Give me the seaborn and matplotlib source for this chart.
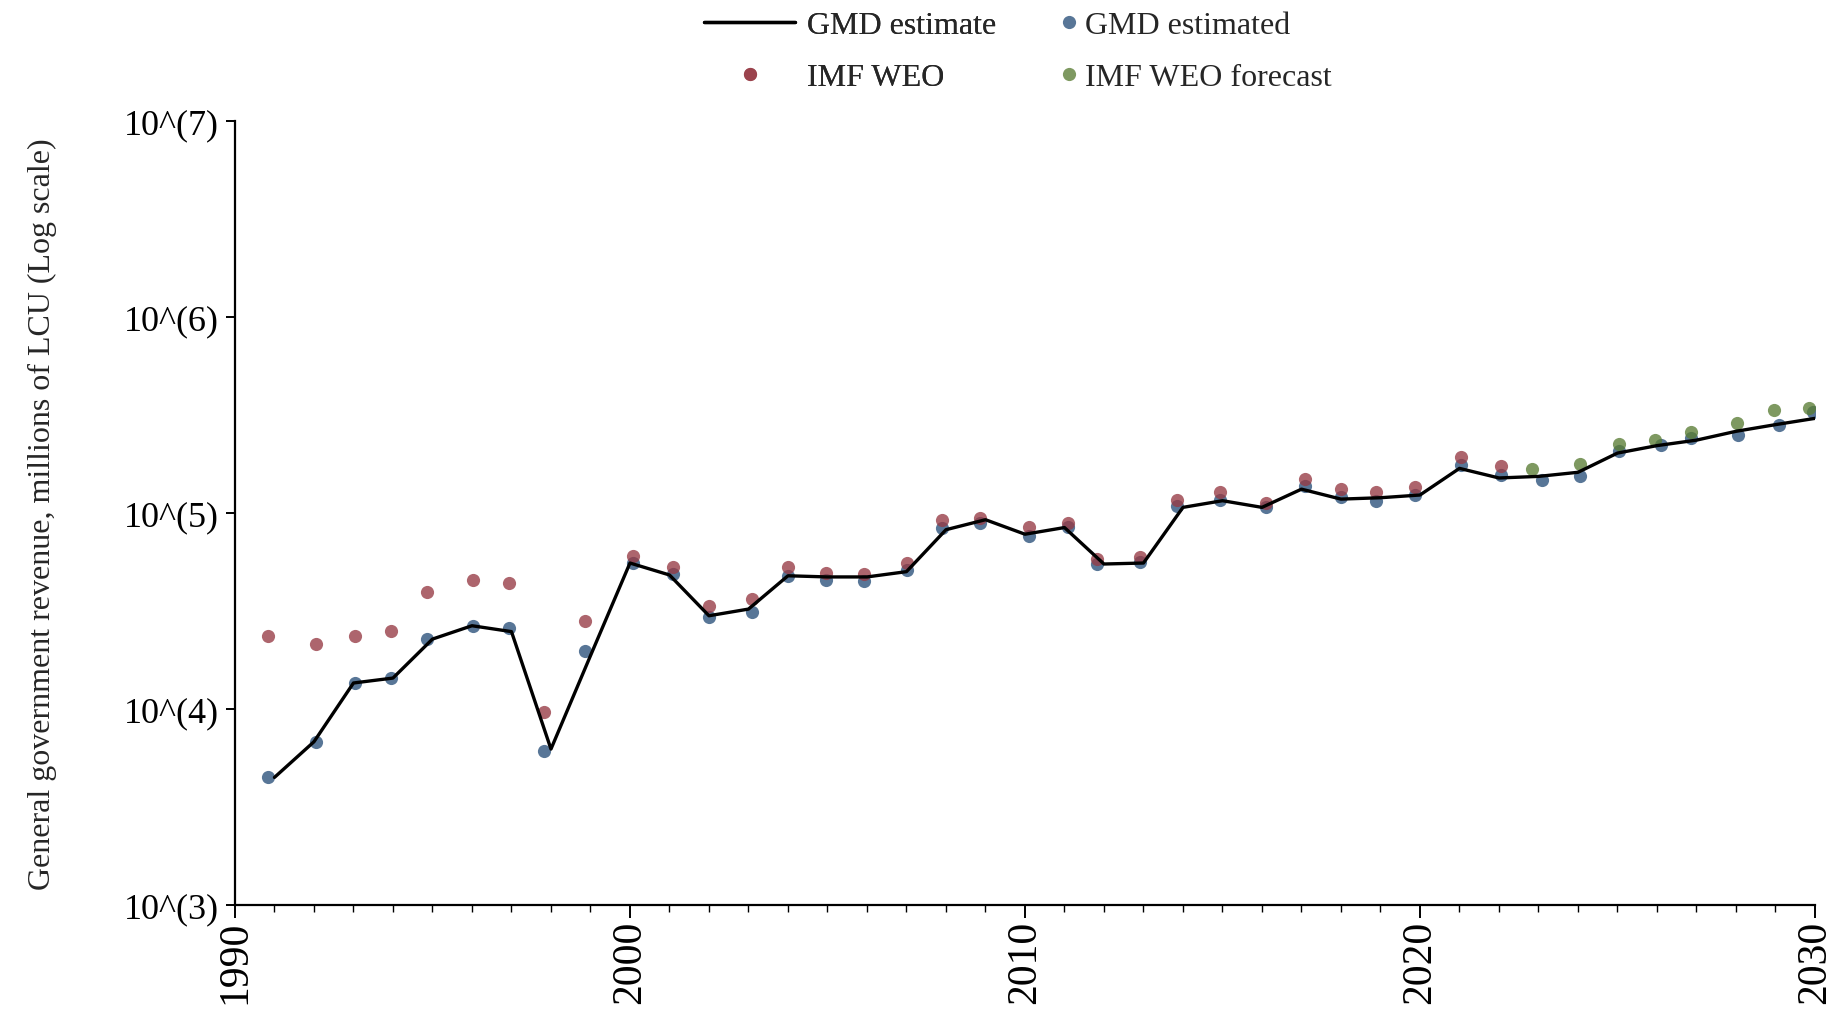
import numpy as np
import pandas as pd
import matplotlib
matplotlib.use("Agg")
import matplotlib.pyplot as plt
import seaborn as sns
from matplotlib.lines import Line2D
from matplotlib.ticker import FixedLocator, FixedFormatter, MultipleLocator

# GMD estimate line (integer years), millions of LCU
line_years = list(range(1991, 2031))
gmd_line = [4480, 6810, 13580, 14390, 22750, 26610, 24830, 6250, 18710, 55590,
            48310, 29920, 32360, 47860, 47210, 47210, 50230, 82220, 92470, 77980,
            84330, 54950, 55590, 106900, 115600, 106900, 132400, 117800, 119700, 123600,
            169000, 151000, 153800, 161400, 202300, 220800, 235500, 261200, 282500, 304100]

# GMD estimated points (slightly jittered dates as drawn)
gmd_dates = [1990.83, 1992.05, 1993.04, 1993.94, 1994.85, 1996.03, 1996.95, 1997.83, 1998.86, 2000.08,
             2001.08, 2002.00, 2003.10, 2004.01, 2004.96, 2005.93, 2007.01, 2007.91, 2008.85, 2010.10,
             2011.09, 2011.82, 2012.91, 2013.84, 2014.93, 2016.10, 2017.08, 2017.99, 2018.89, 2019.87,
             2021.03, 2022.05, 2023.08, 2024.05, 2025.04, 2026.10, 2026.87, 2028.05, 2029.09, 2029.96]
gmd_points = [4480, 6810, 13580, 14390, 22750, 26610, 26000, 6120, 19680, 55590,
              48870, 29440, 31260, 47860, 45390, 44980, 51170, 83750, 88510, 76560,
              84720, 54700, 55980, 108100, 116400, 106900, 136800, 121100, 115600, 123000,
              176200, 156700, 147200, 154900, 208000, 222300, 240400, 251200, 282500, 326600]

# IMF WEO actuals 1991-2022 (same dates as GMD points)
weo_dates = gmd_dates[:32]
weo_values = [23550, 21380, 23550, 24890, 39360, 45710, 44060, 9620, 28250, 60120,
              53210, 33570, 36390, 52970, 49660, 48640, 55590, 92470, 94620, 84920,
              88920, 58210, 59700, 116400, 128500, 111900, 148900, 132400, 127400, 135200,
              193600, 173000]

# IMF WEO forecast 2023-2030
fc_dates = [2022.83, 2024.05, 2025.04, 2025.94, 2026.87, 2028.03, 2028.96, 2029.86]
fc_values = [167500, 178600, 223900, 235000, 260000, 287100, 334200, 342000]

ytick_values = [1e3, 1e4, 1e5, 1e6, 1e7]
ytick_labels = ['10^(3)', '10^(4)', '10^(5)', '10^(6)', '10^(7)']
xtick_values = [1990, 2000, 2010, 2020, 2030]

blue = '#29507a'
red = '#963a44'
green = '#5a7d34'

sns.set_style('ticks')
plt.rcParams['font.family'] = ['Liberation Serif', 'DejaVu Serif']

fig = plt.figure(figsize=(18.4, 10.12), dpi=100)
ax = fig.add_axes([0.1277, 0.1047, 0.8587, 0.7747])

sns.lineplot(x=line_years, y=gmd_line, color='black', linewidth=2.4, ax=ax)
sns.scatterplot(x=gmd_dates, y=gmd_points, color=blue, alpha=0.78, s=90, linewidth=0, ax=ax)
sns.scatterplot(x=weo_dates, y=weo_values, color=red, alpha=0.78, s=90, linewidth=0, ax=ax)
sns.scatterplot(x=fc_dates, y=fc_values, color=green, alpha=0.78, s=90, linewidth=0, ax=ax)

ax.set_yscale('log')
ax.set_ylim(1e3, 1e7)
ax.set_xlim(1990, 2030)
ax.yaxis.set_major_locator(FixedLocator(ytick_values))
ax.yaxis.set_major_formatter(FixedFormatter(ytick_labels))
ax.yaxis.set_minor_locator(FixedLocator([]))
ax.xaxis.set_major_locator(FixedLocator(xtick_values))
ax.xaxis.set_minor_locator(MultipleLocator(1))
ax.set_xticklabels([str(v) for v in xtick_values], rotation=90)

ax.tick_params(axis='y', which='major', labelsize=26, length=6.5, width=1.4, pad=5, colors='black')
ax.tick_params(axis='x', which='major', labelsize=30, length=9, width=1.4, pad=1.5, colors='black')
ax.tick_params(axis='x', which='minor', length=5, width=1.0, colors='black')
for side in ['left', 'bottom']:
    ax.spines[side].set_linewidth(1.6)
    ax.spines[side].set_color('black')
sns.despine(ax=ax)

ax.set_ylabel('General government revenue, millions of LCU (Log scale)', fontsize=23, labelpad=48)
ax.set_xlabel('')

# legend in two blocks to mimic the original layout
h_line = Line2D([], [], color='black', linewidth=2.4)
h_blue = Line2D([], [], linestyle='none', marker='o', markersize=9.5, color=blue, alpha=0.78, markeredgewidth=0)
h_red = Line2D([], [], linestyle='none', marker='o', markersize=9.5, color=red, alpha=0.78, markeredgewidth=0)
h_green = Line2D([], [], linestyle='none', marker='o', markersize=9.5, color=green, alpha=0.78, markeredgewidth=0)

leg1 = fig.legend(handles=[h_line, h_red], labels=['GMD estimate', 'IMF WEO'],
                  loc='center left', bbox_to_anchor=(0.3826, 0.948), frameon=False,
                  fontsize=23, handlelength=2.85, handletextpad=0.36, labelspacing=0.7,
                  borderpad=0, borderaxespad=0)
fig.add_artist(leg1)
fig.legend(handles=[h_blue, h_green], labels=['GMD estimated', 'IMF WEO forecast'],
           loc='center left', bbox_to_anchor=(0.5775, 0.948), frameon=False,
           fontsize=23, handlelength=0.4, handletextpad=0.3, labelspacing=0.7,
           borderpad=0, borderaxespad=0)

fig.savefig('out.png', dpi=100)
